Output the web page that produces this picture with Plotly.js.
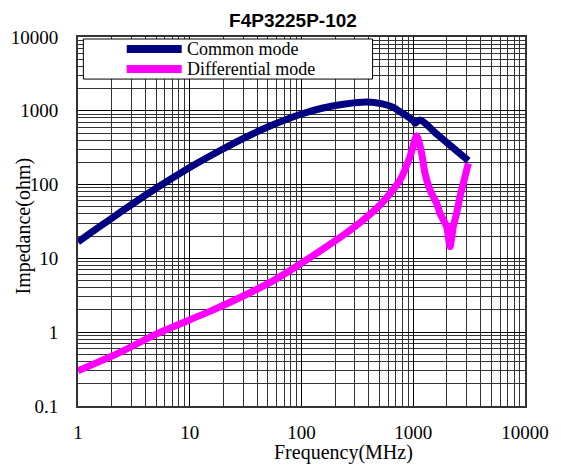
<!DOCTYPE html>
<html>
<head>
<meta charset="utf-8">
<script src="https://cdn.plot.ly/plotly-3.0.1.min.js"></script>
<style>
html,body{margin:0;padding:0;background:#fff;}
#chart{width:561px;height:468px;}
</style>
</head>
<body>
<div id="chart"></div>
<script>
// ---- data ----
const chartTitle = "F4P3225P-102";
const xTitle = "Frequency(MHz)";
const yTitle = "Impedance(ohm)";
const seriesNames = ["Common mode", "Differential mode"];

const cmFreq = [1, 1.57, 2.38, 3.98, 6.66, 11.1, 18.7, 31.2, 52.3, 100, 156, 245, 383, 530, 663, 761, 873, 1000, 1037, 1150, 1600, 2200, 3110];
const cmImp  = [16.7, 27.1, 41.9, 71.1, 117, 187, 290, 434, 622, 905, 1092, 1236, 1316, 1240, 1115, 973, 851, 735, 680, 750, 492, 328, 211];

const dmFreq = [1, 2.3, 5.06, 17.4, 56, 114, 272, 504, 761, 935, 1073, 1189, 1274, 1413, 1620, 1735, 1990, 2132, 2282, 2443, 2620, 2904, 3110];
const dmImp  = [0.30, 0.52, 0.95, 2.1, 5.0, 9.8, 24, 53, 115, 239, 460, 265, 142, 84.5, 55.8, 40.8, 26.9, 14.4, 26.9, 40.8, 68.5, 128, 194];

const xTickVals = [1, 10, 100, 1000, 10000];
const xTickText = ["1", "10", "100", "1000", "10000"];
const yTickVals = [0.1, 1, 10, 100, 1000, 10000];
const yTickText = ["0.1", "1", "10", "100", "1000", "10000"];

const colors = ["#000080", "#FF00FF"];

// ---- plot ----
const serif = "Liberation Serif";

const traces = [
  {x: cmFreq, y: cmImp, name: seriesNames[0], type: "scatter", mode: "lines",
   line: {color: colors[0], width: 7, shape: "spline", smoothing: 0.9}, showlegend: false},
  {x: dmFreq, y: dmImp, name: seriesNames[1], type: "scatter", mode: "lines",
   line: {color: colors[1], width: 7, shape: "spline", smoothing: 0.7}, showlegend: false}
];

const gridMinor = {showgrid: true, gridcolor: "#333", gridwidth: 1, ticks: "", dtick: "D1"};

const layout = {
  width: 561, height: 468,
  margin: {l: 78, r: 36, t: 37, b: 62},
  paper_bgcolor: "#fff", plot_bgcolor: "#fff",
  showlegend: false,
  title: {text: "<b>" + chartTitle + "</b>", x: 0.481, xref: "paper", xanchor: "center",
          y: 1 - 20/468, yref: "container", yanchor: "middle",
          font: {family: "Liberation Sans", size: 19, color: "#000"}},
  xaxis: {type: "log", range: [0, 4], tickmode: "array", tickvals: xTickVals, ticktext: xTickText,
          showgrid: true, gridcolor: "#000", gridwidth: 1, ticks: "",
          minor: gridMinor,
          showline: true, mirror: true, linecolor: "#333", linewidth: 2,
          zeroline: false, ticklabelstandoff: 8,
          tickfont: {family: serif, size: 19, color: "#000"}},
  yaxis: {type: "log", range: [-1, 4], tickmode: "array", tickvals: yTickVals, ticktext: yTickText,
          showgrid: true, gridcolor: "#000", gridwidth: 1, ticks: "",
          minor: gridMinor,
          showline: true, mirror: true, linecolor: "#333", linewidth: 2,
          zeroline: false, ticklabelstandoff: 14,
          tickfont: {family: serif, size: 19, color: "#000"}},
  annotations: [
    {text: xTitle, xref: "paper", yref: "paper", x: 0.595, y: -0.127, xanchor: "center", yanchor: "middle",
     showarrow: false, font: {family: serif, size: 20, color: "#000"}},
    {text: yTitle, xref: "paper", yref: "paper", x: -0.123, y: 0.4865, xanchor: "center", yanchor: "middle",
     textangle: -90, showarrow: false, font: {family: serif, size: 20, color: "#000"}},
    {text: seriesNames[0], xref: "paper", yref: "paper", x: 0.2416, y: (406 - 49) / 369, xanchor: "left", yanchor: "middle",
     showarrow: false, borderpad: 0, font: {family: serif, size: 18, color: "#000"}},
    {text: seriesNames[1], xref: "paper", yref: "paper", x: 0.2416, y: (406 - 69) / 369, xanchor: "left", yanchor: "middle",
     showarrow: false, borderpad: 0, font: {family: serif, size: 18, color: "#000"}}
  ],
  shapes: [
    {type: "rect", xref: "paper", yref: "paper", x0: 0.012, x1: 0.659, y0: 0.886, y1: 0.9946,
     fillcolor: "#fff", line: {color: "#000", width: 1}, layer: "above"},
    {type: "line", xref: "paper", yref: "paper", x0: 0.109, x1: 0.232, y0: (406 - 49) / 369, y1: (406 - 49) / 369,
     line: {color: colors[0], width: 8}, layer: "above"},
    {type: "line", xref: "paper", yref: "paper", x0: 0.109, x1: 0.232, y0: (406 - 69) / 369, y1: (406 - 69) / 369,
     line: {color: colors[1], width: 8}, layer: "above"}
  ]
};

Plotly.newPlot("chart", traces, layout, {displayModeBar: false, staticPlot: true});
</script>
</body>
</html>
